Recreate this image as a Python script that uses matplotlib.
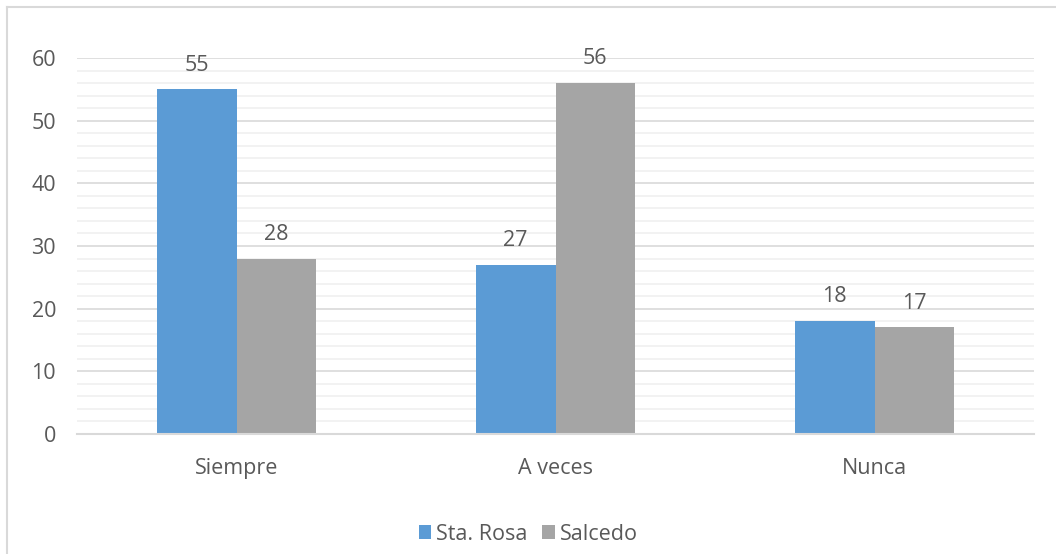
import matplotlib.pyplot as plt
import numpy as np
from matplotlib.lines import Line2D

categories = ["Siempre", "A veces", "Nunca"]
series_names = ["Sta. Rosa", "Salcedo"]
sta_rosa = [55, 27, 18]
salcedo = [28, 56, 17]

colors = ["#5B9BD5", "#A5A5A5"]
text_color = "#595959"
fs = 15.5

plt.rcParams["font.family"] = ["Open Sans", "DejaVu Sans"]

fig = plt.figure(figsize=(10.56, 5.54), dpi=100)
ax = fig.add_axes([77 / 1056, 120 / 554, (1034 - 77) / 1056, (434 - 58) / 554])

x = np.arange(len(categories))
width = 0.25
for i, (vals, name) in enumerate([(sta_rosa, series_names[0]), (salcedo, series_names[1])]):
    bars = ax.bar(x + (i - 0.5) * width, vals, width, color=colors[i], label=name, zorder=3)
    for b, v in zip(bars, vals):
        ax.text(b.get_x() + b.get_width() / 2, v + 2.2, str(v), ha="center", va="bottom",
                fontsize=fs, color=text_color)

ax.set_xlim(-0.5, len(categories) - 0.5)
ax.set_ylim(0, 60)
ax.set_yticks(range(0, 61, 10))
ax.set_yticks(range(0, 61, 2), minor=True)
ax.set_xticks(x)
ax.set_xticklabels(categories)
ax.grid(axis="y", which="major", color="#D9D9D9", lw=1.2, zorder=0)
ax.grid(axis="y", which="minor", color="#F0F0F0", lw=1.2, zorder=0)
ax.tick_params(axis="both", which="both", length=0, labelsize=fs, colors=text_color)
ax.tick_params(axis="y", pad=15)
ax.tick_params(axis="x", pad=17)
for s in ["top", "right", "left"]:
    ax.spines[s].set_visible(False)
ax.spines["bottom"].set_color("#D9D9D9")
ax.spines["bottom"].set_linewidth(1.5)
ax.spines["bottom"].set_zorder(4)

# chart area border (only left and top visible in the crop)
fig.add_artist(Line2D([7 / 1056, 7 / 1056], [0, 1 - 7 / 554], transform=fig.transFigure,
                      color="#D9D9D9", lw=1.5))
fig.add_artist(Line2D([7 / 1056, 1], [1 - 7 / 554, 1 - 7 / 554], transform=fig.transFigure,
                      color="#D9D9D9", lw=1.5))

leg = fig.legend(loc="center", bbox_to_anchor=(528 / 1056, 1 - 534 / 554), ncol=2, frameon=False,
                 fontsize=fs, handlelength=0.6, handleheight=0.6, handletextpad=0.2,
                 columnspacing=0.7, borderaxespad=0)
for t in leg.get_texts():
    t.set_color(text_color)

fig.savefig("out.png", dpi=100)
